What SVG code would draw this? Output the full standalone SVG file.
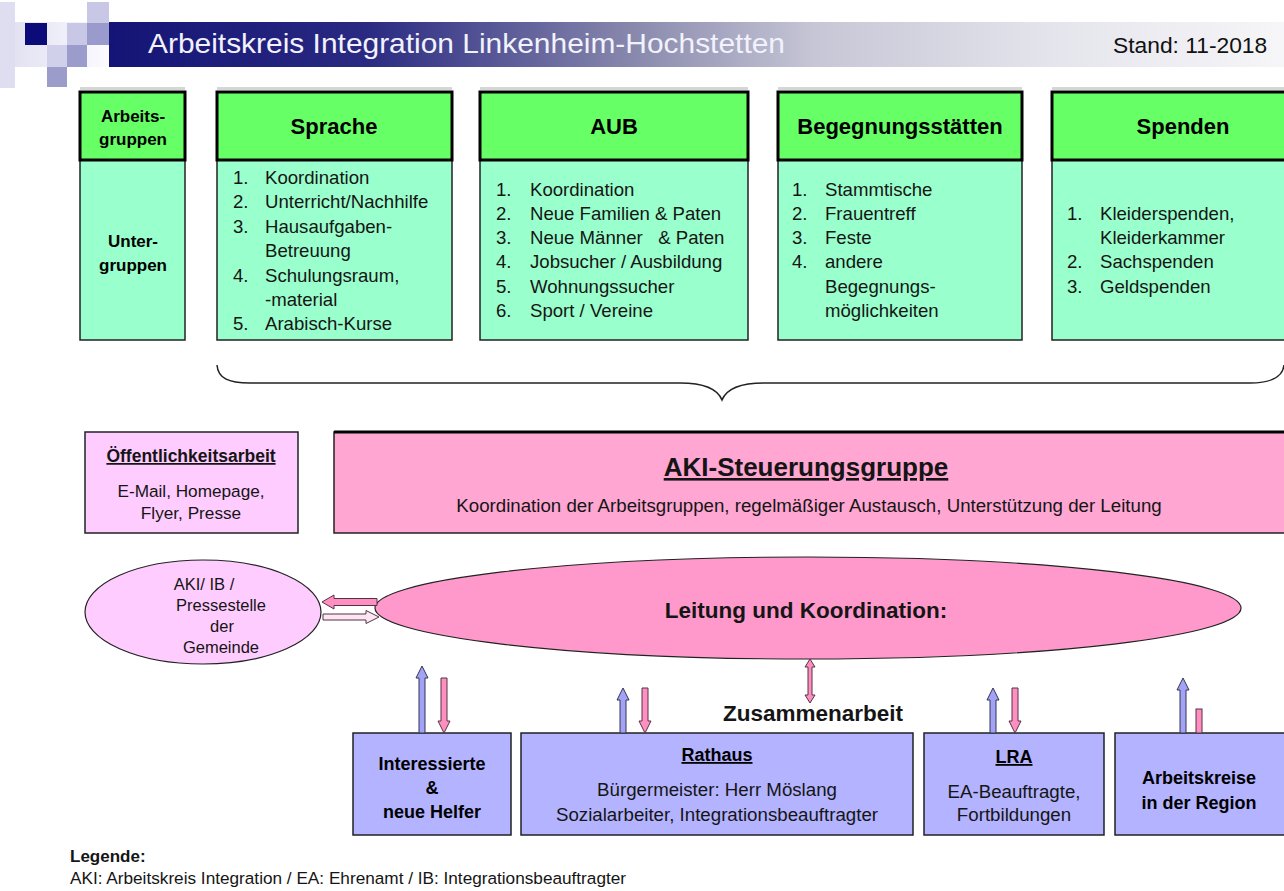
<svg xmlns="http://www.w3.org/2000/svg" width="1284" height="891" viewBox="0 0 1284 891">
  <defs>
    <linearGradient id="barGrad" x1="109" y1="0" x2="1284" y2="0" gradientUnits="userSpaceOnUse">
      <stop offset="0" stop-color="#141476"/>
      <stop offset="0.22" stop-color="#2a2a82"/>
      <stop offset="0.45" stop-color="#8a8aae"/>
      <stop offset="0.6" stop-color="#c6c6d6"/>
      <stop offset="0.8" stop-color="#e4e4ec"/>
      <stop offset="1" stop-color="#f6f6f8"/>
    </linearGradient>
    <linearGradient id="logoGrad" x1="0" y1="0" x2="1" y2="0">
      <stop offset="0" stop-color="#e2e2f2"/>
      <stop offset="1" stop-color="#fbfbff"/>
    </linearGradient>
  </defs>
  <style>
    text { font-family: "Liberation Sans", Arial, sans-serif; fill: #151515; }
    .title { font-size: 28px; fill: #f2f2fc; }
    .stand { font-size: 22.8px; fill: #111; }
    .hd { fill: #66ff66; stroke: #000; stroke-width: 3; }
    .bd { fill: #99ffcc; stroke: #222; stroke-width: 1.5; }
    .shadow { fill: #d6d6d6; }
    .hdt { font-size: 22px; font-weight: bold; text-anchor: middle; fill: #000; }
    .side { font-size: 17px; font-weight: bold; text-anchor: middle; fill: #000; }
    .li { font-size: 18.6px; }
    .pub { fill: #ffccff; stroke: #222; stroke-width: 1.5; }
    .aki { fill: #ffa6d2; stroke: #222; stroke-width: 1.5; }
    .big { fill: #ff99cc; stroke: #222; stroke-width: 1.2; }
    .small { fill: #ffccff; stroke: #222; stroke-width: 1.2; }
    .blue { fill: #b3b3ff; stroke: #222; stroke-width: 1.5; }
    .bt { font-size: 18px; font-weight: bold; text-anchor: middle; fill: #000; }
    .rt { font-size: 18.7px; text-anchor: middle; }
    .ul { text-decoration: underline; }
    .mid { text-anchor: middle; }
    .brace { fill: none; stroke: #222; stroke-width: 1.5; }
    .up { fill: #a3a3f5; stroke: #333355; stroke-width: 1; }
    .down { fill: #ff8fc0; stroke: #553344; stroke-width: 1; }
    .light { fill: #ffe6f4; stroke: #553344; stroke-width: 1; }
  </style>

  <!-- title banner -->
  <g id="banner">
    <rect x="0" y="2" width="15" height="86" fill="#dedef0"/>
    <rect x="15" y="22" width="94" height="45" fill="url(#logoGrad)"/>
    <rect x="25" y="23" width="22" height="22" fill="#0b0b7a"/>
    <rect x="67" y="23" width="20" height="22" fill="#c8c8e6"/>
    <rect x="87" y="2" width="22" height="21" fill="#c8c8e6"/>
    <rect x="87" y="23" width="22" height="22" fill="#9a9acc"/>
    <rect x="47" y="45" width="20" height="22" fill="#d0d0ea"/>
    <rect x="67" y="45" width="20" height="22" fill="#9c9ccc"/>
    <rect x="47" y="67" width="20" height="20" fill="#9c9cca"/>
    <rect x="109" y="22" width="1175" height="45" fill="url(#barGrad)"/>
    <text class="title" x="148" y="53" textLength="637" lengthAdjust="spacingAndGlyphs">Arbeitskreis Integration Linkenheim-Hochstetten</text>
    <text class="stand" x="1113" y="53">Stand: 11-2018</text>
  </g>

  <!-- working groups -->
  <g id="arbeitsgruppen">
    <rect class="shadow" x="80" y="87" width="105" height="3"/>
    <rect class="bd" x="80" y="160" width="105" height="180"/>
    <rect class="hd" x="80" y="92" width="105" height="68"/>
    <text class="side" x="133" y="122">Arbeits-</text>
    <text class="side" x="133" y="145">gruppen</text>
    <text class="side" x="133" y="247">Unter-</text>
    <text class="side" x="133" y="271">gruppen</text>
  </g>

  <g id="sprache">
    <rect class="shadow" x="217" y="87" width="235" height="3"/>
    <rect class="bd" x="217" y="160" width="235" height="180"/>
    <rect class="hd" x="217" y="92" width="235" height="68"/>
    <text class="hdt" x="334" y="134">Sprache</text>
    <g class="li">
      <text x="233" y="184">1.</text><text x="265" y="184">Koordination</text>
      <text x="233" y="208">2.</text><text x="265" y="208">Unterricht/Nachhilfe</text>
      <text x="233" y="233">3.</text><text x="265" y="233">Hausaufgaben-</text>
      <text x="265" y="257">Betreuung</text>
      <text x="233" y="282">4.</text><text x="265" y="282">Schulungsraum,</text>
      <text x="265" y="306">-material</text>
      <text x="233" y="330">5.</text><text x="265" y="330">Arabisch-Kurse</text>
    </g>
  </g>

  <g id="aub">
    <rect class="shadow" x="480" y="87" width="268" height="3"/>
    <rect class="bd" x="480" y="160" width="268" height="180"/>
    <rect class="hd" x="480" y="92" width="268" height="68"/>
    <text class="hdt" x="614" y="134">AUB</text>
    <g class="li">
      <text x="496" y="196">1.</text><text x="530" y="196">Koordination</text>
      <text x="496" y="220">2.</text><text x="530" y="220">Neue Familien &amp; Paten</text>
      <text x="496" y="244">3.</text><text x="530" y="244" xml:space="preserve">Neue Männer   &amp; Paten</text>
      <text x="496" y="268">4.</text><text x="530" y="268">Jobsucher / Ausbildung</text>
      <text x="496" y="293">5.</text><text x="530" y="293">Wohnungssucher</text>
      <text x="496" y="317">6.</text><text x="530" y="317">Sport / Vereine</text>
    </g>
  </g>

  <g id="begegnung">
    <rect class="shadow" x="778" y="87" width="244" height="3"/>
    <rect class="bd" x="778" y="160" width="244" height="180"/>
    <rect class="hd" x="778" y="92" width="244" height="68"/>
    <text class="hdt" x="900" y="134">Begegnungsstätten</text>
    <g class="li">
      <text x="792" y="196">1.</text><text x="825" y="196">Stammtische</text>
      <text x="792" y="220">2.</text><text x="825" y="220">Frauentreff</text>
      <text x="792" y="244">3.</text><text x="825" y="244">Feste</text>
      <text x="792" y="268">4.</text><text x="825" y="268">andere</text>
      <text x="825" y="293">Begegnungs-</text>
      <text x="825" y="317">möglichkeiten</text>
    </g>
  </g>

  <g id="spenden">
    <rect class="shadow" x="1052" y="87" width="240" height="3"/>
    <rect class="bd" x="1052" y="160" width="240" height="180"/>
    <rect class="hd" x="1052" y="92" width="240" height="68"/>
    <text class="hdt" x="1183" y="134">Spenden</text>
    <g class="li">
      <text x="1067" y="220">1.</text><text x="1100" y="220">Kleiderspenden,</text>
      <text x="1100" y="244">Kleiderkammer</text>
      <text x="1067" y="268">2.</text><text x="1100" y="268">Sachspenden</text>
      <text x="1067" y="293">3.</text><text x="1100" y="293">Geldspenden</text>
    </g>
  </g>

  <!-- curly brace gathering the groups -->
  <path id="brace" class="brace" d="M217,365 C218,378 228,383 250,383 L680,383 C705,383 718,390 722,400 C726,390 739,383 764,383 L1250,383 C1272,383 1283,376 1284,365"/>

  <g id="oeffentlichkeit">
    <rect class="pub" x="85" y="432" width="213" height="101"/>
    <text class="mid ul" x="191" y="462" font-size="17.5" font-weight="bold" fill="#000">Öffentlichkeitsarbeit</text>
    <text class="mid" x="191" y="497" font-size="17.2">E-Mail, Homepage,</text>
    <text class="mid" x="191" y="519" font-size="17.2">Flyer, Presse</text>
  </g>

  <g id="steuerungsgruppe">
    <rect class="aki" x="334" y="432" width="960" height="101"/>
    <line x1="334" y1="432" x2="1284" y2="432" stroke="#000" stroke-width="3"/>
    <text class="mid ul" x="806" y="476" font-size="26" font-weight="bold" fill="#000">AKI-Steuerungsgruppe</text>
    <text class="mid" x="809" y="512" font-size="18.7">Koordination der Arbeitsgruppen, regelmäßiger Austausch, Unterstützung der Leitung</text>
  </g>

  <g id="pressestelle">
    <ellipse class="small" cx="203" cy="612" rx="118" ry="52"/>
    <text class="mid" x="204" y="590" font-size="16.5">AKI/ IB /</text>
    <text class="mid" x="221" y="611" font-size="16.5">Pressestelle</text>
    <text class="mid" x="222" y="632" font-size="16.5">der</text>
    <text class="mid" x="221" y="653" font-size="16.5">Gemeinde</text>
  </g>

  <g id="leitung">
    <ellipse class="big" cx="808" cy="608" rx="433" ry="51"/>
    <text class="mid" x="806" y="618" font-size="22.5" font-weight="bold" fill="#000">Leitung und Koordination:</text>
  </g>

  <g id="zusammenarbeit">
    <text class="mid" x="813" y="721" font-size="22.5" font-weight="bold" fill="#000">Zusammenarbeit</text>
  </g>

  <g id="interessierte">
    <rect class="blue" x="353" y="733" width="158" height="102"/>
    <text class="bt" x="432" y="770">Interessierte</text>
    <text class="bt" x="432" y="794">&amp;</text>
    <text class="bt" x="432" y="818">neue Helfer</text>
  </g>

  <g id="rathaus">
    <rect class="blue" x="521" y="733" width="392" height="102"/>
    <text class="bt ul" x="717" y="761">Rathaus</text>
    <text class="rt" x="717" y="796">Bürgermeister: Herr Möslang</text>
    <text class="rt" x="717" y="821">Sozialarbeiter, Integrationsbeauftragter</text>
  </g>

  <g id="lra">
    <rect class="blue" x="924" y="733" width="180" height="102"/>
    <text class="bt ul" x="1014" y="763">LRA</text>
    <text class="rt" x="1014" y="798">EA-Beauftragte,</text>
    <text class="rt" x="1014" y="821">Fortbildungen</text>
  </g>

  <g id="arbeitskreise">
    <rect class="blue" x="1115" y="733" width="180" height="102"/>
    <text class="bt" x="1199" y="784">Arbeitskreise</text>
    <text class="bt" x="1199" y="809">in der Region</text>
  </g>

  <!-- block arrows -->
  <g id="connectors">
    <!-- between Leitung and Pressestelle -->
    <polygon class="down" points="322,602 334,595 334,598.5 377,598.5 377,605.5 334,605.5 334,609"/>
    <polygon class="light" points="379,617 366,610.5 366,614 323,614 323,620 366,620 366,623.5"/>
    <!-- Leitung to Zusammenarbeit -->
    <polygon class="down" points="810,659 815,667 812,667 812,695 815,695 810,703 805,695 808,695 808,667 805,667"/>
    <!-- Interessierte -->
    <polygon class="up" points="422,666 428,678 425,678 425,733 419,733 419,678 416,678"/>
    <polygon class="down" points="444,733 438,721 441,721 441,678 447,678 447,721 450,721"/>
    <!-- Rathaus -->
    <polygon class="up" points="623,688 629,700 626,700 626,733 620,733 620,700 617,700"/>
    <polygon class="down" points="645,733 639,721 642,721 642,688 648,688 648,721 651,721"/>
    <!-- LRA -->
    <polygon class="up" points="993,688 999,700 996,700 996,733 990,733 990,700 987,700"/>
    <polygon class="down" points="1015,733 1009,721 1012,721 1012,688 1018,688 1018,721 1021,721"/>
    <!-- Arbeitskreise -->
    <polygon class="up" points="1183,678 1189,690 1186,690 1186,733 1180,733 1180,690 1177,690"/>
    <rect class="down" x="1196" y="709" width="6" height="24"/>
  </g>

  <g id="legende">
    <text x="70" y="862" font-size="17" font-weight="bold" fill="#000">Legende:</text>
    <text x="70" y="884" font-size="17.2">AKI: Arbeitskreis Integration / EA: Ehrenamt / IB: Integrationsbeauftragter</text>
  </g>
</svg>
